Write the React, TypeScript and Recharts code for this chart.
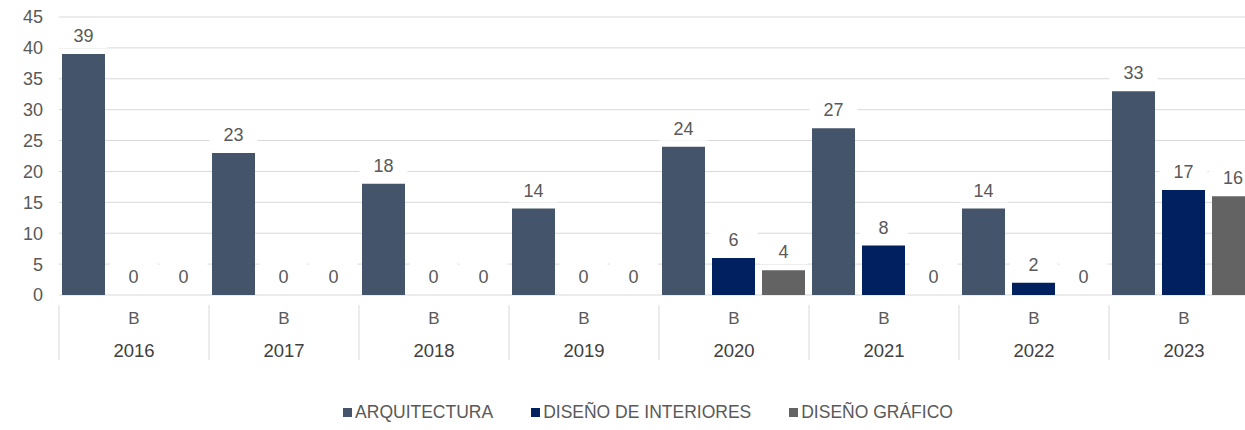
import { BarChart, Bar, XAxis, YAxis, CartesianGrid, LabelList } from "recharts"

const years = ["2016", "2017", "2018", "2019", "2020", "2021", "2022", "2023"]
const arquitectura = [39, 23, 18, 14, 24, 27, 14, 33]
const disenoInteriores = [0, 0, 0, 0, 6, 8, 2, 17]
const disenoGrafico = [0, 0, 0, 0, 4, 0, 0, 16]
const yTicks = [0, 5, 10, 15, 20, 25, 30, 35, 40, 45]

const SERIES = [
  { key: "arq", name: "ARQUITECTURA", color: "#44546a" },
  { key: "di", name: "DISEÑO DE INTERIORES", color: "#002060" },
  { key: "dg", name: "DISEÑO GRÁFICO", color: "#636363" },
]

const data = years.map((year, i) => ({
  year,
  arq: arquitectura[i],
  di: disenoInteriores[i],
  dg: disenoGrafico[i],
}))

const FONT = "'Liberation Sans', Arial, sans-serif"
const TEXT = "#595959"
const GRID = "#d9d9d9"
const GROUP_W = 150
const VISIBLE_W = 1245

// etiqueta con fondo blanco (tapa la cuadrícula como en Excel)
const ValueLabel = (props: any) => {
  const { x, y, width, height, value } = props
  // que no se salga por la derecha
  const cx = Math.min(x + width / 2, VISIBLE_W - 12)
  const top = Math.min(y, y + (height || 0))
  return (
    <g>
      <rect x={cx - 24} y={top - 33} width={48} height={27} fill="#fff" />
      <text x={cx} y={top - 12} textAnchor="middle" fill={TEXT} fontSize={18} fontFamily={FONT}>
        {value}
      </text>
    </g>
  )
}

// eje X de dos niveles: "B" + año, con separadores verticales
const YearTick = (props: any) => {
  const { x, y, payload, index } = props
  return (
    <g>
      <line x1={x - GROUP_W / 2} x2={x - GROUP_W / 2} y1={y + 10} y2={y + 65} stroke={GRID} />
      {index === years.length - 1 && (
        <line x1={x + GROUP_W / 2} x2={x + GROUP_W / 2} y1={y + 10} y2={y + 65} stroke={GRID} />
      )}
      <text x={x} y={y + 29} textAnchor="middle" fill={TEXT} fontSize={17} fontFamily={FONT}>
        B
      </text>
      <text x={x} y={y + 62} textAnchor="middle" fill="#404040" fontSize={18.5} fontFamily={FONT}>
        {payload.value}
      </text>
    </g>
  )
}

export default function App() {
  return (
    <div
      style={{
        position: "fixed",
        left: 0,
        top: 0,
        width: VISIBLE_W,
        height: 430,
        overflow: "hidden",
        background: "#fff",
      }}
    >
      <BarChart
        width={1260}
        height={370}
        data={data}
        margin={{ top: 17, right: 1, left: 0, bottom: 5 }}
        barCategoryGap={3}
        barGap={7}
      >
        <CartesianGrid vertical={false} stroke={GRID} />
        <XAxis
          dataKey="year"
          axisLine={false}
          tickLine={false}
          tickSize={0}
          tickMargin={0}
          height={70}
          interval={0}
          tick={<YearTick />}
        />
        <YAxis
          domain={[0, 45]}
          ticks={yTicks}
          axisLine={false}
          tickLine={false}
          tickSize={0}
          tickMargin={16}
          width={59}
          tick={{ fill: TEXT, fontSize: 18, fontFamily: FONT }}
        />
        {SERIES.map((s) => (
          <Bar
            key={s.key}
            dataKey={s.key}
            name={s.name}
            fill={s.color}
            minPointSize={0.01}
            isAnimationActive={false}
          >
            <LabelList dataKey={s.key} content={<ValueLabel />} />
          </Bar>
        ))}
      </BarChart>
      <div
        style={{
          position: "absolute",
          top: 402,
          left: 0,
          width: 1296,
          display: "flex",
          justifyContent: "center",
          gap: 38,
          fontFamily: FONT,
          fontSize: 17.5,
          color: TEXT,
        }}
      >
        {SERIES.map((s) => (
          <div key={s.key} style={{ display: "flex", alignItems: "center" }}>
            <div style={{ width: 9, height: 9, background: s.color, marginRight: 3 }} />
            <span>{s.name}</span>
          </div>
        ))}
      </div>
    </div>
  )
}
